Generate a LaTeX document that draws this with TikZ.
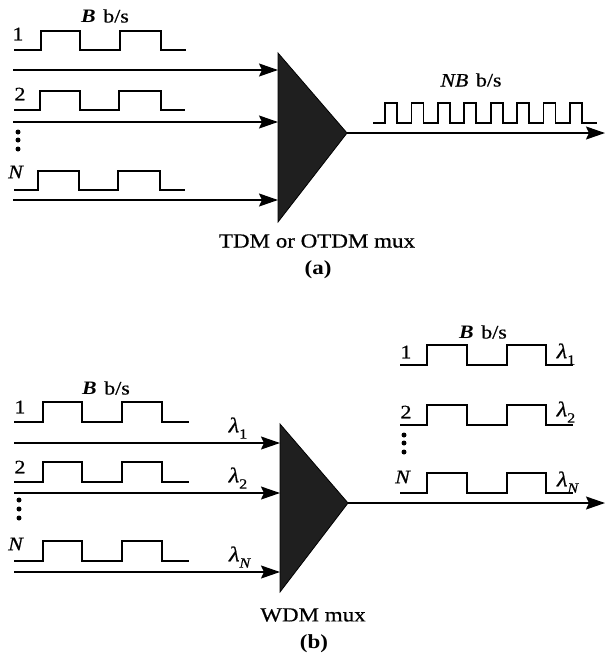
\documentclass[tikz,border=0pt]{standalone}
\usepackage{fontspec}
\setmainfont{Liberation Serif}[FakeStretch=1.15, UprightFeatures={FakeBold=0.6}, ItalicFeatures={FakeBold=0.6}]
\usetikzlibrary{arrows.meta}
\newcommand\sqwave[8]{\draw[wave] (#1,#7) -- (#2,#7) -- (#2,#8) -- (#3,#8) -- (#3,#7) -- (#4,#7) -- (#4,#8) -- (#5,#8) -- (#5,#7) -- (#6,#7);}
\newcommand\bbs{\textit{\textbf{B}}\hspace{0.4em}b/s}
\newcommand\lamsub[1]{\textit{λ}\raisebox{-0.3em}{\fontsize{14}{14}\selectfont #1}}
\begin{document}
\begin{tikzpicture}[x=1pt,y=-1pt,
  wave/.style={line width=1.8pt, line join=miter},
  sig/.style={line width=1.6pt, -{Stealth[length=19pt,width=13pt,inset=3pt]}},
  mux/.style={fill=black!88, draw=black, line width=0.8pt, line join=miter},
  lab/.style={font=\fontsize{19}{19}\selectfont, inner sep=0pt},
  lam/.style={font=\fontsize{21}{21}\selectfont, inner sep=0pt},
  captext/.style={font=\fontsize{20}{20}\selectfont, inner sep=0pt},
  bcaptext/.style={font=\fontsize{20}{20}\selectfont\bfseries, inner sep=0pt}]
\path[use as bounding box] (0,0) rectangle (605,657);

% ---------------- (a) ----------------
\node[lab] (aB) at (105,16) {\bbs};
\node[lab] (a1l) at (18,34) {1};
\node[lab] (a2l) at (20,94) {2};
\node[lab] (aNl) at (16,172) {\textit{N}};
\sqwave{14}{41}{80}{120}{161}{186}{50}{31}
\sqwave{14}{40}{80}{119}{161}{185}{110}{91}
\sqwave{14}{38}{79}{118}{160}{185}{190}{171}
\fill (18,132) circle (2.5) (18,140) circle (2.5) (18,149) circle (2.5);

\path[mux] (278,53) coordinate (TAtop) -- (347,133) coordinate (TAtip) -- (278,222) coordinate (TAbot) -- cycle;
\coordinate (ain1) at (13,70);
\coordinate (ain2) at (13,122);
\coordinate (ainN) at (13,200);
\draw[sig] (ain1) -- (ain1 -| TAtop);
\draw[sig] (ain2) -- (ain2 -| TAtop);
\draw[sig] (ainN) -- (ainN -| TAtop);
\coordinate (aout) at (605,133);
\draw[sig] (TAtip) -- (aout);

\node[lab] (aNB) at (471,80) {\textit{NB}\hspace{0.4em}b/s};
\draw[wave] (373,123) foreach \k in {0,...,7} { -- ({385+26.43*\k},123) -- ({385+26.43*\k},103) -- ({397+26.43*\k},103) -- ({397+26.43*\k},123) } -- (597,123);

\node[captext] (acap) at (317,241) {TDM or OTDM mux};
\node[bcaptext] (alab) at (318,270) {(a)};

% ---------------- (b) ----------------
\node[lab] (bB) at (106,388) {\bbs};
\node[lab] (b1l) at (20,407) {1};
\node[lab] (b2l) at (20,467) {2};
\node[lab] (bNl) at (16,544) {\textit{N}};
\sqwave{14}{43}{82}{122}{162}{189}{422}{402}
\sqwave{14}{43}{82}{122}{162}{189}{482}{462}
\sqwave{14}{43}{82}{122}{162}{189}{561}{541}
\fill (19,500) circle (2.5) (19,509) circle (2.5) (19,518) circle (2.5);

\node[lam] (bl1) at (238,428) {\lamsub{1}};
\node[lam] (bl2) at (238,478) {\lamsub{2}};
\node[lam] (blN) at (240,557) {\lamsub{\textit{N}}};

\path[mux] (280,424) coordinate (TBtop) -- (348,503) coordinate (TBtip) -- (280,592) coordinate (TBbot) -- cycle;
\coordinate (bin1) at (14,443);
\coordinate (bin2) at (14,493);
\coordinate (binN) at (14,572);
\draw[sig] (bin1) -- (bin1 -| TBtop);
\draw[sig] (bin2) -- (bin2 -| TBtop);
\draw[sig] (binN) -- (binN -| TBtop);
\coordinate (bout) at (605,503);
\draw[sig] (TBtip) -- (bout);

\node[lab] (bBr) at (483,332) {\bbs};
\node[lab] (br1l) at (406,352) {1};
\node[lab] (br2l) at (406,412) {2};
\node[lab] (brNl) at (403,477) {\textit{N}};
\sqwave{400}{427}{467}{507}{546}{573}{365}{345}
\sqwave{400}{427}{467}{507}{546}{573}{425}{405}
\sqwave{400}{427}{467}{507}{546}{573}{493}{473}
\fill (404,435) circle (2.5) (404,443) circle (2.5) (404,452) circle (2.5);
\node[lam] (brl1) at (566,354) {\lamsub{1}};
\node[lam] (brl2) at (566,412) {\lamsub{2}};
\node[lam] (brlN) at (568,482) {\lamsub{\textit{N}}};

\node[captext] (bcap) at (313,615) {WDM mux};
\node[bcaptext] (blab) at (314,644) {(b)};
\end{tikzpicture}
\end{document}
